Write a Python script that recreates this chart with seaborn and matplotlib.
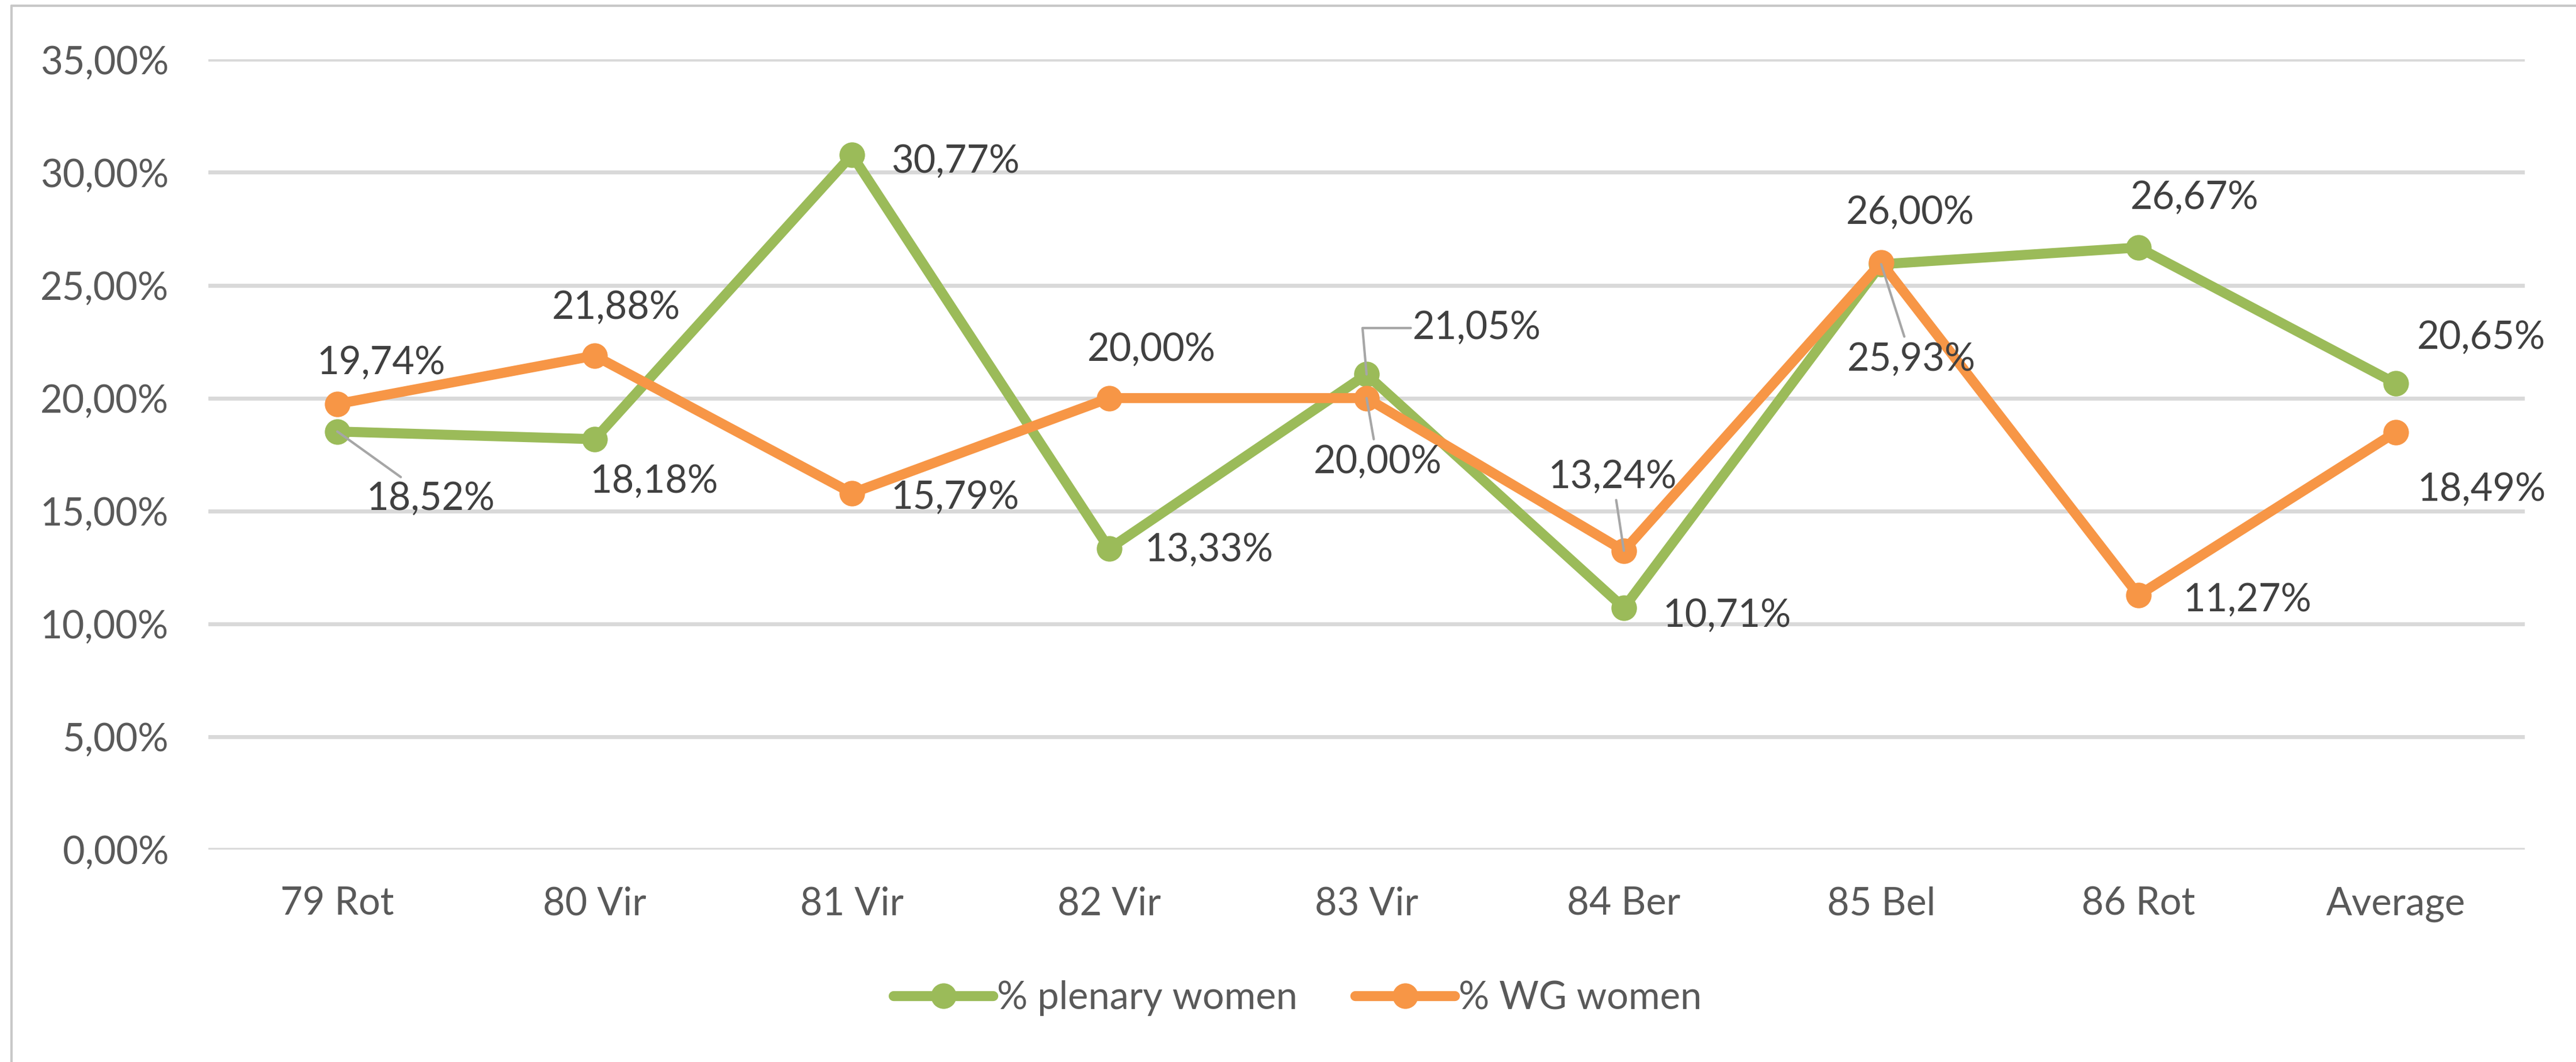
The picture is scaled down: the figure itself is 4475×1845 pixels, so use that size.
import matplotlib
matplotlib.use("Agg")
import matplotlib.pyplot as plt
import seaborn as sns
import pandas as pd
from matplotlib.lines import Line2D

categories = ["79 Rot", "80 Vir", "81 Vir", "82 Vir", "83 Vir", "84 Ber", "85 Bel", "86 Rot", "Average"]
plenary = [18.52, 18.18, 30.77, 13.33, 21.05, 10.71, 25.93, 26.67, 20.65]
wg = [19.74, 21.88, 15.79, 20.00, 20.00, 13.24, 26.00, 11.27, 18.49]
series_names = ["% plenary women", "% WG women"]
yticks = [0, 5, 10, 15, 20, 25, 30, 35]

GREEN = "#9BBB59"
ORANGE = "#F79646"
TXT = "#404040"
TICK = "#595959"
GRID = "#D9D9D9"
LEADER = "#A6A6A6"
FS = 48
LW = 12.5
MS = 32

sns.set_theme(style="white")
plt.rcParams["font.family"] = ["Lato", "DejaVu Sans"]

df = pd.DataFrame({
    "cat": categories * 2,
    "x": list(range(len(categories))) * 2,
    "val": [v / 100 for v in plenary] + [v / 100 for v in wg],
    "series": [series_names[0]] * len(categories) + [series_names[1]] * len(categories),
})

fig = plt.figure(figsize=(44.75, 18.45), dpi=100)
ax = fig.add_axes([0.081, 0.200, 0.899, 0.744])

sns.lineplot(data=df, x="x", y="val", hue="series", palette=[GREEN, ORANGE],
             marker="o", markersize=MS, linewidth=LW, markeredgewidth=0,
             ax=ax, legend=False, sort=False, zorder=3)

ax.set_xlim(-0.5, len(categories) - 0.5)
ax.set_ylim(0, 0.35)
ax.set_yticks([t / 100 for t in yticks])
ax.set_yticklabels([f"{t:.2f}".replace(".", ",") + "%" for t in yticks])
ax.set_xticks(range(len(categories)))
ax.set_xticklabels(categories)
ax.tick_params(axis="both", labelsize=FS, colors=TICK, length=0)
ax.tick_params(axis="y", pad=50)
ax.tick_params(axis="x", pad=46)
for lab in ax.get_xticklabels() + ax.get_yticklabels():
    lab.set_color(TICK)
ax.set_xlabel("")
ax.set_ylabel("")
for s in ax.spines.values():
    s.set_visible(False)
ax.yaxis.grid(True, color=GRID, linewidth=5, zorder=0)
ax.set_axisbelow(True)

def fmt(v):
    return f"{v:.2f}".replace(".", ",") + "%"

# label offsets in points (dx, dy) relative to the data point
pl_off = [(117, -84), (74, -53), (129, -8), (125, -2), (138, 58), (129, -10), (38, -119), (70, 62), (107, 57)]
wg_off = [(55, 51), (27, 60), (129, -6), (53, 60), (14, -80), (-14, 92), (36, 62), (136, -6), (107, -72)]
pl_leader = {0: None, 4: "angle", 6: None}
wg_leader = {4: None, 5: None}

def put_labels(vals, offs, leaders):
    for i, (v, (dx, dy)) in enumerate(zip(vals, offs)):
        kw = {}
        if i in leaders:
            if leaders[i] == "angle":
                kw["arrowprops"] = dict(arrowstyle="-", color=LEADER, lw=3,
                                        shrinkA=0, shrinkB=0,
                                        connectionstyle="angle,angleA=0,angleB=95,rad=0",
                                        relpos=(0, 0.5))
            else:
                kw["arrowprops"] = dict(arrowstyle="-", color=LEADER, lw=3,
                                        shrinkA=4, shrinkB=0)
        ax.annotate(fmt(v), xy=(i, v / 100), xytext=(dx, dy), textcoords="offset points",
                    ha="center", va="center", fontsize=FS, color=TXT, zorder=5, **kw)

put_labels(plenary, pl_off, pl_leader)
put_labels(wg, wg_off, wg_leader)

handles = [Line2D([0], [0], color=GREEN, lw=LW, marker="o", markersize=MS, markeredgewidth=0),
           Line2D([0], [0], color=ORANGE, lw=LW, marker="o", markersize=MS, markeredgewidth=0)]
leg = fig.legend(handles, series_names, loc="center", bbox_to_anchor=(0.5037, 0.060), ncol=2,
                 frameon=False, fontsize=FS, handlelength=2.6, handletextpad=0.1,
                 columnspacing=1.5, borderpad=0, borderaxespad=0)
for t in leg.get_texts():
    t.set_color(TICK)

# outer chart frame (left and top edges visible)
fig.add_artist(Line2D([0.0045, 0.0045], [0.0, 0.9946], transform=fig.transFigure, color="#C8C8C8", lw=3))
fig.add_artist(Line2D([0.0045, 1.0], [0.9946, 0.9946], transform=fig.transFigure, color="#C8C8C8", lw=3))

fig.savefig("out.png", dpi=100, facecolor="white")
